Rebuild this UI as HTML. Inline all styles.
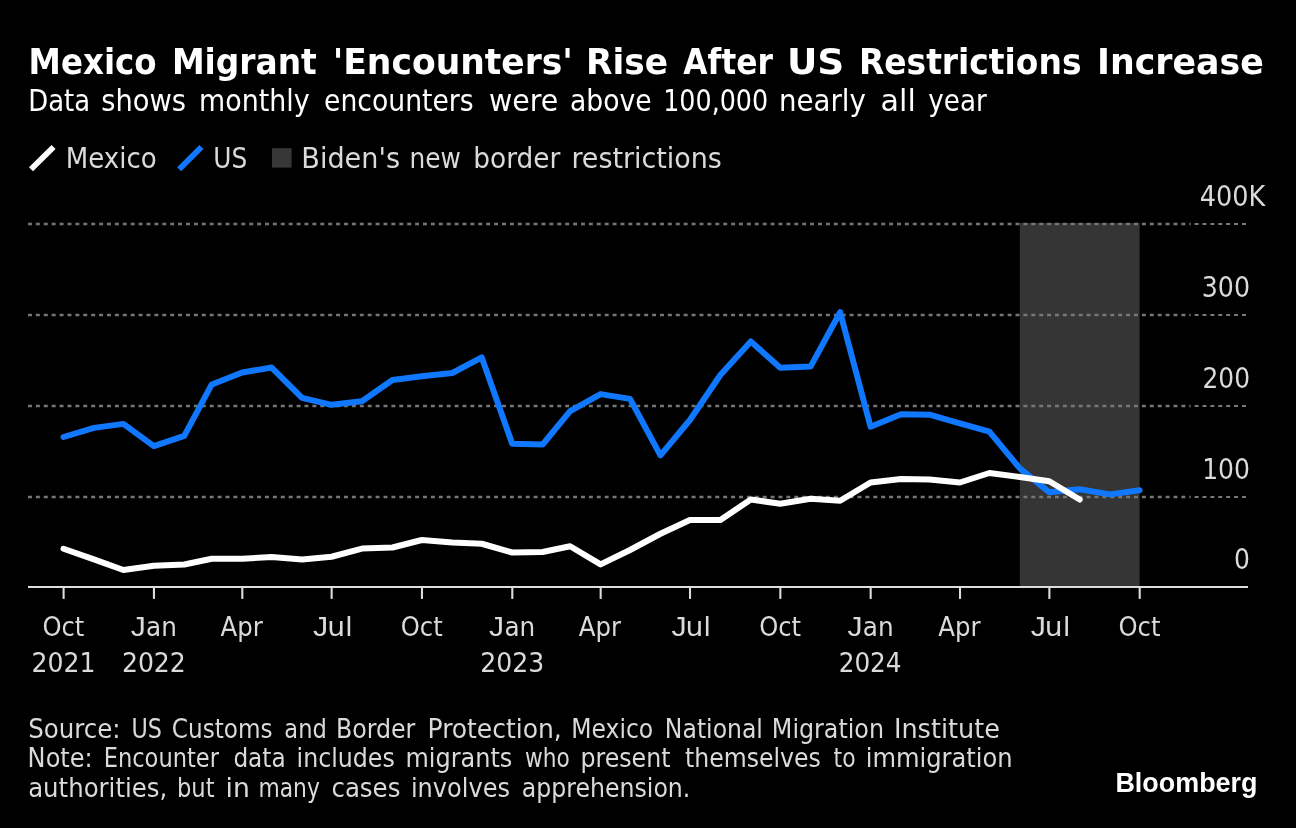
<!DOCTYPE html>
<html lang="en"><head><meta charset="utf-8"><title>Mexico Migrant 'Encounters' Rise After US Restrictions Increase</title>
<style>
html,body{margin:0;padding:0;background:#000;}
body{width:1296px;height:828px;overflow:hidden;}
svg{display:block;will-change:transform;}
</style></head><body>
<svg width="1296" height="828" viewBox="0 0 1296 828">
<rect width="1296" height="828" fill="#000"/>
<text y="73.60" font-family="'DejaVu Sans Condensed', 'DejaVu Sans', 'Liberation Sans', sans-serif" font-size="35" font-weight="700" fill="#ffffff"><tspan x="28.64" textLength="128.02" lengthAdjust="spacingAndGlyphs">Mexico</tspan> <tspan x="171.91" textLength="144.84" lengthAdjust="spacingAndGlyphs">Migrant</tspan> <tspan x="332.71" textLength="240.18" lengthAdjust="spacingAndGlyphs">'Encounters'</tspan> <tspan x="586.12" textLength="82.07" lengthAdjust="spacingAndGlyphs">Rise</tspan> <tspan x="683.30" textLength="89.54" lengthAdjust="spacingAndGlyphs">After</tspan> <tspan x="786.92" textLength="57.37" lengthAdjust="spacingAndGlyphs">US</tspan> <tspan x="858.91" textLength="222.57" lengthAdjust="spacingAndGlyphs">Restrictions</tspan> <tspan x="1097.09" textLength="166.71" lengthAdjust="spacingAndGlyphs">Increase</tspan></text>
<text y="111.40" font-family="'DejaVu Sans Condensed', 'DejaVu Sans', 'Liberation Sans', sans-serif" font-size="30.7" font-weight="400" fill="#ffffff"><tspan x="28.33" textLength="61.77" lengthAdjust="spacingAndGlyphs">Data</tspan> <tspan x="101.31" textLength="84.77" lengthAdjust="spacingAndGlyphs">shows</tspan> <tspan x="199.05" textLength="110.57" lengthAdjust="spacingAndGlyphs">monthly</tspan> <tspan x="324.04" textLength="149.64" lengthAdjust="spacingAndGlyphs">encounters</tspan> <tspan x="488.97" textLength="69.35" lengthAdjust="spacingAndGlyphs">were</tspan> <tspan x="570.04" textLength="81.62" lengthAdjust="spacingAndGlyphs">above</tspan> <tspan x="663.24" textLength="104.89" lengthAdjust="spacingAndGlyphs">100,000</tspan> <tspan x="779.00" textLength="86.83" lengthAdjust="spacingAndGlyphs">nearly</tspan> <tspan x="880.61" textLength="35.22" lengthAdjust="spacingAndGlyphs">all</tspan> <tspan x="928.30" textLength="58.38" lengthAdjust="spacingAndGlyphs">year</tspan></text>
<line x1="31" y1="169.25" x2="53.55" y2="147.05" stroke="#fff" stroke-width="5.8"/>
<text y="167.70" font-family="'DejaVu Sans Condensed', 'DejaVu Sans', 'Liberation Sans', sans-serif" font-size="27.8" font-weight="400" fill="#dadada"><tspan x="65.72" textLength="90.93" lengthAdjust="spacingAndGlyphs">Mexico</tspan></text>
<line x1="179.15" y1="169.25" x2="201.45" y2="147.05" stroke="#0f78ff" stroke-width="5.8"/>
<text y="167.70" font-family="'DejaVu Sans Condensed', 'DejaVu Sans', 'Liberation Sans', sans-serif" font-size="27.8" font-weight="400" fill="#dadada"><tspan x="213.31" textLength="33.96" lengthAdjust="spacingAndGlyphs">US</tspan></text>
<rect x="272" y="148.2" width="19.6" height="19.4" fill="#373737"/>
<text y="167.70" font-family="'DejaVu Sans Condensed', 'DejaVu Sans', 'Liberation Sans', sans-serif" font-size="27.8" font-weight="400" fill="#dadada"><tspan x="301.33" textLength="98.68" lengthAdjust="spacingAndGlyphs">Biden's</tspan> <tspan x="409.51" textLength="51.34" lengthAdjust="spacingAndGlyphs">new</tspan> <tspan x="473.29" textLength="87.04" lengthAdjust="spacingAndGlyphs">border</tspan> <tspan x="571.45" textLength="150.46" lengthAdjust="spacingAndGlyphs">restrictions</tspan></text>
<rect x="1019.82" y="223.0" width="119.78" height="364.0" fill="#353535"/>
<line x1="28" x2="1190.6" y1="224" y2="224" stroke="#767676" stroke-width="2.6" stroke-dasharray="3.95 3.95"/>
<line x1="1194.6" x2="1246.6" y1="224" y2="224" stroke="#7a7a7a" stroke-width="2" stroke-dasharray="3.95 3.95"/>
<line x1="28" x2="1190.6" y1="315" y2="315" stroke="#767676" stroke-width="2.6" stroke-dasharray="3.95 3.95"/>
<line x1="1194.6" x2="1246.6" y1="315" y2="315" stroke="#7a7a7a" stroke-width="2" stroke-dasharray="3.95 3.95"/>
<line x1="28" x2="1190.6" y1="406" y2="406" stroke="#767676" stroke-width="2.6" stroke-dasharray="3.95 3.95"/>
<line x1="1194.6" x2="1246.6" y1="406" y2="406" stroke="#7a7a7a" stroke-width="2" stroke-dasharray="3.95 3.95"/>
<line x1="28" x2="1190.6" y1="497" y2="497" stroke="#767676" stroke-width="2.6" stroke-dasharray="3.95 3.95"/>
<line x1="1194.6" x2="1246.6" y1="497" y2="497" stroke="#7a7a7a" stroke-width="2" stroke-dasharray="3.95 3.95"/>
<text y="205.80" font-family="'DejaVu Sans Condensed', 'DejaVu Sans', 'Liberation Sans', sans-serif" font-size="27.8" font-weight="400" fill="#dadada"><tspan x="1199.88" textLength="65.50" lengthAdjust="spacingAndGlyphs">400K</tspan></text>
<text y="296.60" font-family="'DejaVu Sans Condensed', 'DejaVu Sans', 'Liberation Sans', sans-serif" font-size="27.8" font-weight="400" fill="#dadada"><tspan x="1201.79" textLength="48.23" lengthAdjust="spacingAndGlyphs">300</tspan></text>
<text y="387.70" font-family="'DejaVu Sans Condensed', 'DejaVu Sans', 'Liberation Sans', sans-serif" font-size="27.8" font-weight="400" fill="#dadada"><tspan x="1202.50" textLength="47.50" lengthAdjust="spacingAndGlyphs">200</tspan></text>
<text y="478.70" font-family="'DejaVu Sans Condensed', 'DejaVu Sans', 'Liberation Sans', sans-serif" font-size="27.8" font-weight="400" fill="#dadada"><tspan x="1202.20" textLength="47.81" lengthAdjust="spacingAndGlyphs">100</tspan></text>
<text y="568.60" font-family="'DejaVu Sans Condensed', 'DejaVu Sans', 'Liberation Sans', sans-serif" font-size="27.8" font-weight="400" fill="#dadada"><tspan x="1234.10" textLength="15.91" lengthAdjust="spacingAndGlyphs">0</tspan></text>
<polyline points="63.50,437.00 93.94,427.89 123.39,423.88 153.83,446.06 184.27,435.93 211.76,384.46 242.20,372.44 271.65,367.57 302.09,397.87 331.54,404.85 361.98,401.28 392.42,379.93 421.87,376.31 452.31,372.99 481.77,357.39 512.20,443.80 542.64,444.47 570.13,411.14 600.57,394.09 630.02,398.91 660.46,455.45 689.92,420.03 720.35,375.00 750.79,341.54 780.25,367.75 810.68,366.42 840.14,312.20 870.57,426.66 901.01,414.18 929.49,414.68 959.92,423.44 989.38,431.65 1019.82,468.32 1049.27,492.27 1079.71,489.20 1110.14,494.37 1139.60,490.23" fill="none" stroke="#0f78ff" stroke-width="6" stroke-linejoin="round" stroke-linecap="round"/>
<polyline points="63.50,548.75 93.94,559.40 123.39,570.00 153.83,565.75 184.27,564.50 211.76,558.75 242.20,558.75 271.65,557.00 302.09,559.50 331.54,556.75 361.98,548.60 392.42,547.50 421.87,540.00 452.31,542.50 481.77,543.75 512.20,552.50 542.64,552.00 570.13,546.25 600.57,564.40 630.02,550.00 660.46,533.75 689.92,520.00 720.35,520.00 750.79,499.50 780.25,503.75 810.68,498.75 840.14,500.75 870.57,482.50 901.01,479.00 929.49,479.50 959.92,482.50 989.38,473.00 1019.82,477.00 1049.27,481.25 1079.71,499.50" fill="none" stroke="#fff" stroke-width="6" stroke-linejoin="round" stroke-linecap="round"/>
<line x1="28" x2="1248" y1="587.0" y2="587.0" stroke="#dcdcdc" stroke-width="2.1"/>
<line x1="63.60" x2="63.60" y1="587.0" y2="598.9" stroke="#dcdcdc" stroke-width="2.1"/>
<line x1="153.93" x2="153.93" y1="587.0" y2="598.9" stroke="#dcdcdc" stroke-width="2.1"/>
<line x1="242.30" x2="242.30" y1="587.0" y2="598.9" stroke="#dcdcdc" stroke-width="2.1"/>
<line x1="331.64" x2="331.64" y1="587.0" y2="598.9" stroke="#dcdcdc" stroke-width="2.1"/>
<line x1="421.97" x2="421.97" y1="587.0" y2="598.9" stroke="#dcdcdc" stroke-width="2.1"/>
<line x1="512.30" x2="512.30" y1="587.0" y2="598.9" stroke="#dcdcdc" stroke-width="2.1"/>
<line x1="600.67" x2="600.67" y1="587.0" y2="598.9" stroke="#dcdcdc" stroke-width="2.1"/>
<line x1="690.02" x2="690.02" y1="587.0" y2="598.9" stroke="#dcdcdc" stroke-width="2.1"/>
<line x1="780.35" x2="780.35" y1="587.0" y2="598.9" stroke="#dcdcdc" stroke-width="2.1"/>
<line x1="870.67" x2="870.67" y1="587.0" y2="598.9" stroke="#dcdcdc" stroke-width="2.1"/>
<line x1="960.02" x2="960.02" y1="587.0" y2="598.9" stroke="#dcdcdc" stroke-width="2.1"/>
<line x1="1049.37" x2="1049.37" y1="587.0" y2="598.9" stroke="#dcdcdc" stroke-width="2.1"/>
<line x1="1139.70" x2="1139.70" y1="587.0" y2="598.9" stroke="#dcdcdc" stroke-width="2.1"/>
<text y="636.30" font-family="'DejaVu Sans Condensed', 'DejaVu Sans', 'Liberation Sans', sans-serif" font-size="27.4" font-weight="400" fill="#dadada"><tspan x="42.42" textLength="41.95" lengthAdjust="spacingAndGlyphs">Oct</tspan></text>
<text y="671.80" font-family="'DejaVu Sans Condensed', 'DejaVu Sans', 'Liberation Sans', sans-serif" font-size="27.4" font-weight="400" fill="#dadada"><tspan x="31.58" textLength="63.93" lengthAdjust="spacingAndGlyphs">2021</tspan></text>
<text y="636.30" font-family="'DejaVu Sans Condensed', 'DejaVu Sans', 'Liberation Sans', sans-serif" font-size="27.4" font-weight="400" fill="#dadada"><tspan x="130.73" textLength="15.05" lengthAdjust="spacingAndGlyphs" font-family="'Liberation Sans', 'DejaVu Sans', 'Liberation Sans', sans-serif" font-size="28">J</tspan><tspan x="146.03" textLength="30.83" lengthAdjust="spacingAndGlyphs">an</tspan></text>
<text y="671.80" font-family="'DejaVu Sans Condensed', 'DejaVu Sans', 'Liberation Sans', sans-serif" font-size="27.4" font-weight="400" fill="#dadada"><tspan x="121.91" textLength="63.93" lengthAdjust="spacingAndGlyphs">2022</tspan></text>
<text y="636.30" font-family="'DejaVu Sans Condensed', 'DejaVu Sans', 'Liberation Sans', sans-serif" font-size="27.4" font-weight="400" fill="#dadada"><tspan x="220.50" textLength="42.23" lengthAdjust="spacingAndGlyphs">Apr</tspan></text>
<text y="636.30" font-family="'DejaVu Sans Condensed', 'DejaVu Sans', 'Liberation Sans', sans-serif" font-size="27.4" font-weight="400" fill="#dadada"><tspan x="313.04" textLength="15.17" lengthAdjust="spacingAndGlyphs" font-family="'Liberation Sans', 'DejaVu Sans', 'Liberation Sans', sans-serif" font-size="28">J</tspan><tspan x="327.16" textLength="25.70" lengthAdjust="spacingAndGlyphs">ul</tspan></text>
<text y="636.30" font-family="'DejaVu Sans Condensed', 'DejaVu Sans', 'Liberation Sans', sans-serif" font-size="27.4" font-weight="400" fill="#dadada"><tspan x="400.79" textLength="41.95" lengthAdjust="spacingAndGlyphs">Oct</tspan></text>
<text y="636.30" font-family="'DejaVu Sans Condensed', 'DejaVu Sans', 'Liberation Sans', sans-serif" font-size="27.4" font-weight="400" fill="#dadada"><tspan x="489.10" textLength="15.05" lengthAdjust="spacingAndGlyphs" font-family="'Liberation Sans', 'DejaVu Sans', 'Liberation Sans', sans-serif" font-size="28">J</tspan><tspan x="504.40" textLength="30.83" lengthAdjust="spacingAndGlyphs">an</tspan></text>
<text y="671.80" font-family="'DejaVu Sans Condensed', 'DejaVu Sans', 'Liberation Sans', sans-serif" font-size="27.4" font-weight="400" fill="#dadada"><tspan x="480.28" textLength="63.93" lengthAdjust="spacingAndGlyphs">2023</tspan></text>
<text y="636.30" font-family="'DejaVu Sans Condensed', 'DejaVu Sans', 'Liberation Sans', sans-serif" font-size="27.4" font-weight="400" fill="#dadada"><tspan x="578.87" textLength="42.23" lengthAdjust="spacingAndGlyphs">Apr</tspan></text>
<text y="636.30" font-family="'DejaVu Sans Condensed', 'DejaVu Sans', 'Liberation Sans', sans-serif" font-size="27.4" font-weight="400" fill="#dadada"><tspan x="671.42" textLength="15.17" lengthAdjust="spacingAndGlyphs" font-family="'Liberation Sans', 'DejaVu Sans', 'Liberation Sans', sans-serif" font-size="28">J</tspan><tspan x="685.53" textLength="25.70" lengthAdjust="spacingAndGlyphs">ul</tspan></text>
<text y="636.30" font-family="'DejaVu Sans Condensed', 'DejaVu Sans', 'Liberation Sans', sans-serif" font-size="27.4" font-weight="400" fill="#dadada"><tspan x="759.16" textLength="41.95" lengthAdjust="spacingAndGlyphs">Oct</tspan></text>
<text y="636.30" font-family="'DejaVu Sans Condensed', 'DejaVu Sans', 'Liberation Sans', sans-serif" font-size="27.4" font-weight="400" fill="#dadada"><tspan x="847.47" textLength="15.05" lengthAdjust="spacingAndGlyphs" font-family="'Liberation Sans', 'DejaVu Sans', 'Liberation Sans', sans-serif" font-size="28">J</tspan><tspan x="862.77" textLength="30.83" lengthAdjust="spacingAndGlyphs">an</tspan></text>
<text y="671.80" font-family="'DejaVu Sans Condensed', 'DejaVu Sans', 'Liberation Sans', sans-serif" font-size="27.4" font-weight="400" fill="#dadada"><tspan x="838.67" textLength="62.88" lengthAdjust="spacingAndGlyphs">2024</tspan></text>
<text y="636.30" font-family="'DejaVu Sans Condensed', 'DejaVu Sans', 'Liberation Sans', sans-serif" font-size="27.4" font-weight="400" fill="#dadada"><tspan x="938.22" textLength="42.23" lengthAdjust="spacingAndGlyphs">Apr</tspan></text>
<text y="636.30" font-family="'DejaVu Sans Condensed', 'DejaVu Sans', 'Liberation Sans', sans-serif" font-size="27.4" font-weight="400" fill="#dadada"><tspan x="1030.77" textLength="15.17" lengthAdjust="spacingAndGlyphs" font-family="'Liberation Sans', 'DejaVu Sans', 'Liberation Sans', sans-serif" font-size="28">J</tspan><tspan x="1044.88" textLength="25.70" lengthAdjust="spacingAndGlyphs">ul</tspan></text>
<text y="636.30" font-family="'DejaVu Sans Condensed', 'DejaVu Sans', 'Liberation Sans', sans-serif" font-size="27.4" font-weight="400" fill="#dadada"><tspan x="1118.52" textLength="41.95" lengthAdjust="spacingAndGlyphs">Oct</tspan></text>
<text y="737.50" font-family="'DejaVu Sans Condensed', 'DejaVu Sans', 'Liberation Sans', sans-serif" font-size="25.9" font-weight="400" fill="#dadada"><tspan x="28.15" textLength="92.40" lengthAdjust="spacingAndGlyphs">Source:</tspan> <tspan x="131.39" textLength="30.47" lengthAdjust="spacingAndGlyphs">US</tspan> <tspan x="171.81" textLength="100.72" lengthAdjust="spacingAndGlyphs">Customs</tspan> <tspan x="284.33" textLength="42.40" lengthAdjust="spacingAndGlyphs">and</tspan> <tspan x="335.97" textLength="79.40" lengthAdjust="spacingAndGlyphs">Border</tspan> <tspan x="427.55" textLength="134.24" lengthAdjust="spacingAndGlyphs">Protection,</tspan> <tspan x="571.28" textLength="81.97" lengthAdjust="spacingAndGlyphs">Mexico</tspan> <tspan x="664.88" textLength="98.01" lengthAdjust="spacingAndGlyphs">National</tspan> <tspan x="771.86" textLength="112.15" lengthAdjust="spacingAndGlyphs">Migration</tspan> <tspan x="893.91" textLength="105.96" lengthAdjust="spacingAndGlyphs">Institute</tspan></text>
<text y="767.30" font-family="'DejaVu Sans Condensed', 'DejaVu Sans', 'Liberation Sans', sans-serif" font-size="25.9" font-weight="400" fill="#dadada"><tspan x="27.63" textLength="65.08" lengthAdjust="spacingAndGlyphs">Note:</tspan> <tspan x="103.66" textLength="115.32" lengthAdjust="spacingAndGlyphs">Encounter</tspan> <tspan x="233.40" textLength="52.26" lengthAdjust="spacingAndGlyphs">data</tspan> <tspan x="296.57" textLength="98.19" lengthAdjust="spacingAndGlyphs">includes</tspan> <tspan x="405.44" textLength="106.83" lengthAdjust="spacingAndGlyphs">migrants</tspan> <tspan x="525.00" textLength="44.76" lengthAdjust="spacingAndGlyphs">who</tspan> <tspan x="580.46" textLength="90.07" lengthAdjust="spacingAndGlyphs">present</tspan> <tspan x="685.00" textLength="135.85" lengthAdjust="spacingAndGlyphs">themselves</tspan> <tspan x="833.60" textLength="21.97" lengthAdjust="spacingAndGlyphs">to</tspan> <tspan x="865.72" textLength="146.91" lengthAdjust="spacingAndGlyphs">immigration</tspan></text>
<text y="797.20" font-family="'DejaVu Sans Condensed', 'DejaVu Sans', 'Liberation Sans', sans-serif" font-size="25.9" font-weight="400" fill="#dadada"><tspan x="28.15" textLength="139.11" lengthAdjust="spacingAndGlyphs">authorities,</tspan> <tspan x="176.96" textLength="37.57" lengthAdjust="spacingAndGlyphs">but</tspan> <tspan x="225.51" textLength="24.31" lengthAdjust="spacingAndGlyphs">in</tspan> <tspan x="258.43" textLength="61.37" lengthAdjust="spacingAndGlyphs">many</tspan> <tspan x="331.45" textLength="68.94" lengthAdjust="spacingAndGlyphs">cases</tspan> <tspan x="410.93" textLength="99.14" lengthAdjust="spacingAndGlyphs">involves</tspan> <tspan x="521.79" textLength="168.55" lengthAdjust="spacingAndGlyphs">apprehension.</tspan></text>
<text y="791.90" font-family="'Liberation Sans', 'DejaVu Sans', 'Liberation Sans', sans-serif" font-size="27.6" font-weight="700" fill="#ffffff"><tspan x="1115.42" textLength="142.11" lengthAdjust="spacingAndGlyphs">Bloomberg</tspan></text>
</svg></body></html>
